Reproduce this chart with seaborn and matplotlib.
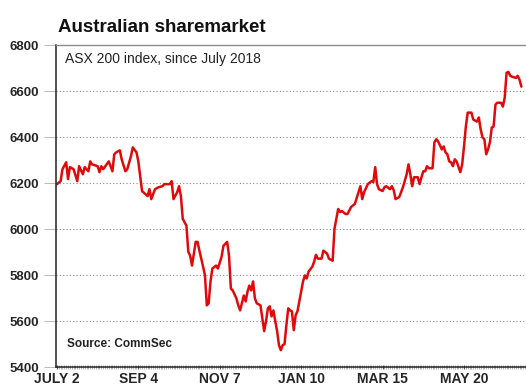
import matplotlib
matplotlib.use("Agg")
import matplotlib.pyplot as plt
import seaborn as sns
import pandas as pd
import numpy as np

# trading-day index since 2 July 2018 and ASX 200 close
days = [0, 2, 3, 5, 6, 7, 9, 11, 12, 14, 15, 17, 18, 19, 22, 23, 24, 25, 28, 29,
        30, 31, 32, 34, 35, 37, 38, 40, 41, 43, 44, 45, 46, 49, 50, 51, 53, 55, 57, 58,
        61, 62, 63, 65, 66, 67, 68, 70, 71, 72, 73, 74, 75, 76, 77, 79, 80, 81, 82, 83,
        84, 86, 87, 89, 90, 92, 93, 94, 95, 97, 98, 99, 101, 102, 103, 104, 105, 106, 107, 108,
        110, 111, 112, 113, 114, 115, 116, 117, 118, 119, 120, 121, 122, 123, 124, 125, 126, 127, 128, 129,
        130, 131, 132, 133, 134, 135, 136, 138, 139, 140, 141, 143, 144, 146, 147, 149, 150, 152, 153, 154,
        156, 157, 159, 161, 163, 164, 165, 166, 168, 170, 171, 172, 173, 174, 176, 177, 178, 180, 181, 182,
        183, 185, 186, 187, 189, 190, 191, 192, 193, 195, 196, 197, 198, 199, 200, 201, 203, 204, 205, 206,
        208, 209, 210, 211, 212, 213, 214, 215, 216, 218, 219, 220, 221, 222, 224, 225, 227, 228, 229, 230,
        231, 232, 233, 234, 235, 236, 237, 238, 240, 241, 242, 243, 244, 245, 246, 248, 249, 250, 251]
asx200 = [6195, 6208, 6260, 6290, 6217, 6269, 6260, 6208, 6273, 6238, 6269, 6251, 6294, 6281, 6273, 6247, 6273, 6260, 6294, 6273,
          6251, 6325, 6333, 6342, 6303, 6251, 6260, 6316, 6355, 6333, 6294, 6230, 6165, 6143, 6173, 6130, 6173, 6182, 6186, 6195,
          6195, 6208, 6130, 6160, 6186, 6143, 6044, 6014, 5901, 5884, 5841, 5893, 5944, 5944, 5906, 5836, 5798, 5668, 5677, 5772,
          5828, 5841, 5828, 5880, 5927, 5944, 5884, 5741, 5733, 5698, 5668, 5646, 5711, 5685, 5728, 5754, 5733, 5772, 5698, 5677,
          5668, 5612, 5556, 5599, 5655, 5664, 5620, 5646, 5599, 5556, 5495, 5473, 5495, 5499, 5581, 5655, 5646, 5642, 5560, 5625,
          5642, 5685, 5728, 5772, 5798, 5785, 5815, 5836, 5858, 5888, 5871, 5871, 5906, 5893, 5871, 5862, 6001, 6087, 6074, 6078,
          6065, 6065, 6096, 6109, 6160, 6186, 6130, 6160, 6195, 6208, 6204, 6269, 6195, 6173, 6165, 6182, 6186, 6173, 6186, 6169,
          6130, 6139, 6160, 6182, 6238, 6281, 6238, 6186, 6225, 6225, 6195, 6225, 6251, 6251, 6273, 6264, 6264, 6377, 6390, 6381,
          6346, 6359, 6333, 6325, 6294, 6290, 6273, 6303, 6294, 6247, 6281, 6359, 6446, 6506, 6506, 6476, 6467, 6485, 6433, 6398,
          6390, 6325, 6346, 6377, 6441, 6446, 6541, 6549, 6549, 6532, 6571, 6679, 6683, 6666, 6662, 6657, 6666, 6649, 6619]

tick_days = [0, 44, 88, 132, 176, 220]
tick_labels = ["JULY 2", "SEP 4", "NOV 7", "JAN 10", "MAR 15", "MAY 20"]
y_ticks = [5400, 5600, 5800, 6000, 6200, 6400, 6600, 6800]

sns.set_style("white")
plt.rcParams['font.family'] = ['Liberation Sans', 'DejaVu Sans']

df = pd.DataFrame({"day": days, "value": asx200})

fig = plt.figure(figsize=(5.26, 3.87), dpi=100)
ax = fig.add_axes([56/526, 1-367/387, 470/526, 322/387])

sns.lineplot(data=df, x="day", y="value", ax=ax, color="#e00a0a", linewidth=1.8)

ax.set_xlim(-0.5, 253.5)
ax.set_ylim(5400, 6800)
ax.set_yticks(y_ticks)
ax.set_yticklabels([str(v) for v in y_ticks], fontweight="bold", fontsize=9.5)
ax.set_xticks(tick_days)
ax.set_xticklabels(tick_labels, fontweight="bold", fontsize=10)
ax.set_xticks(np.arange(0, 254, 1), minor=True)
ax.set_xlabel("")
ax.set_ylabel("")

for v in y_ticks[1:-1]:
    ax.axhline(v, color="#8a8a8a", linestyle=(0, (1, 2)), linewidth=0.8, zorder=0)

ax.tick_params(axis="y", which="major", length=9, width=0.6, color="#b0b0b0", pad=3, left=True)
ax.tick_params(axis="x", which="major", length=3, width=0.8, color="#555555", pad=2, bottom=True, direction="inout")
ax.tick_params(axis="x", which="minor", length=3, width=0.4, color="#777777", bottom=True, direction="inout")

for s in ["left", "bottom"]:
    ax.spines[s].set_color("#222222")
    ax.spines[s].set_linewidth(1.1)
ax.spines["top"].set_color("#8a8a8a")
ax.spines["top"].set_linewidth(1.0)
ax.spines["right"].set_visible(False)

ax.text(0.02, 0.955, "ASX 200 index, since July 2018", transform=ax.transAxes,
        fontsize=10, va="center", ha="left", color="#222222")
ax.text(0.024, 0.072, "Source: CommSec", transform=ax.transAxes,
        fontsize=8.5, fontweight="bold", va="center", ha="left", color="#222222")

fig.text(58/526, 1-32/387, "Australian sharemarket", fontsize=13.5, fontweight="bold",
         ha="left", va="baseline", color="#111111")

fig.savefig("out.png", dpi=100, facecolor="white")
